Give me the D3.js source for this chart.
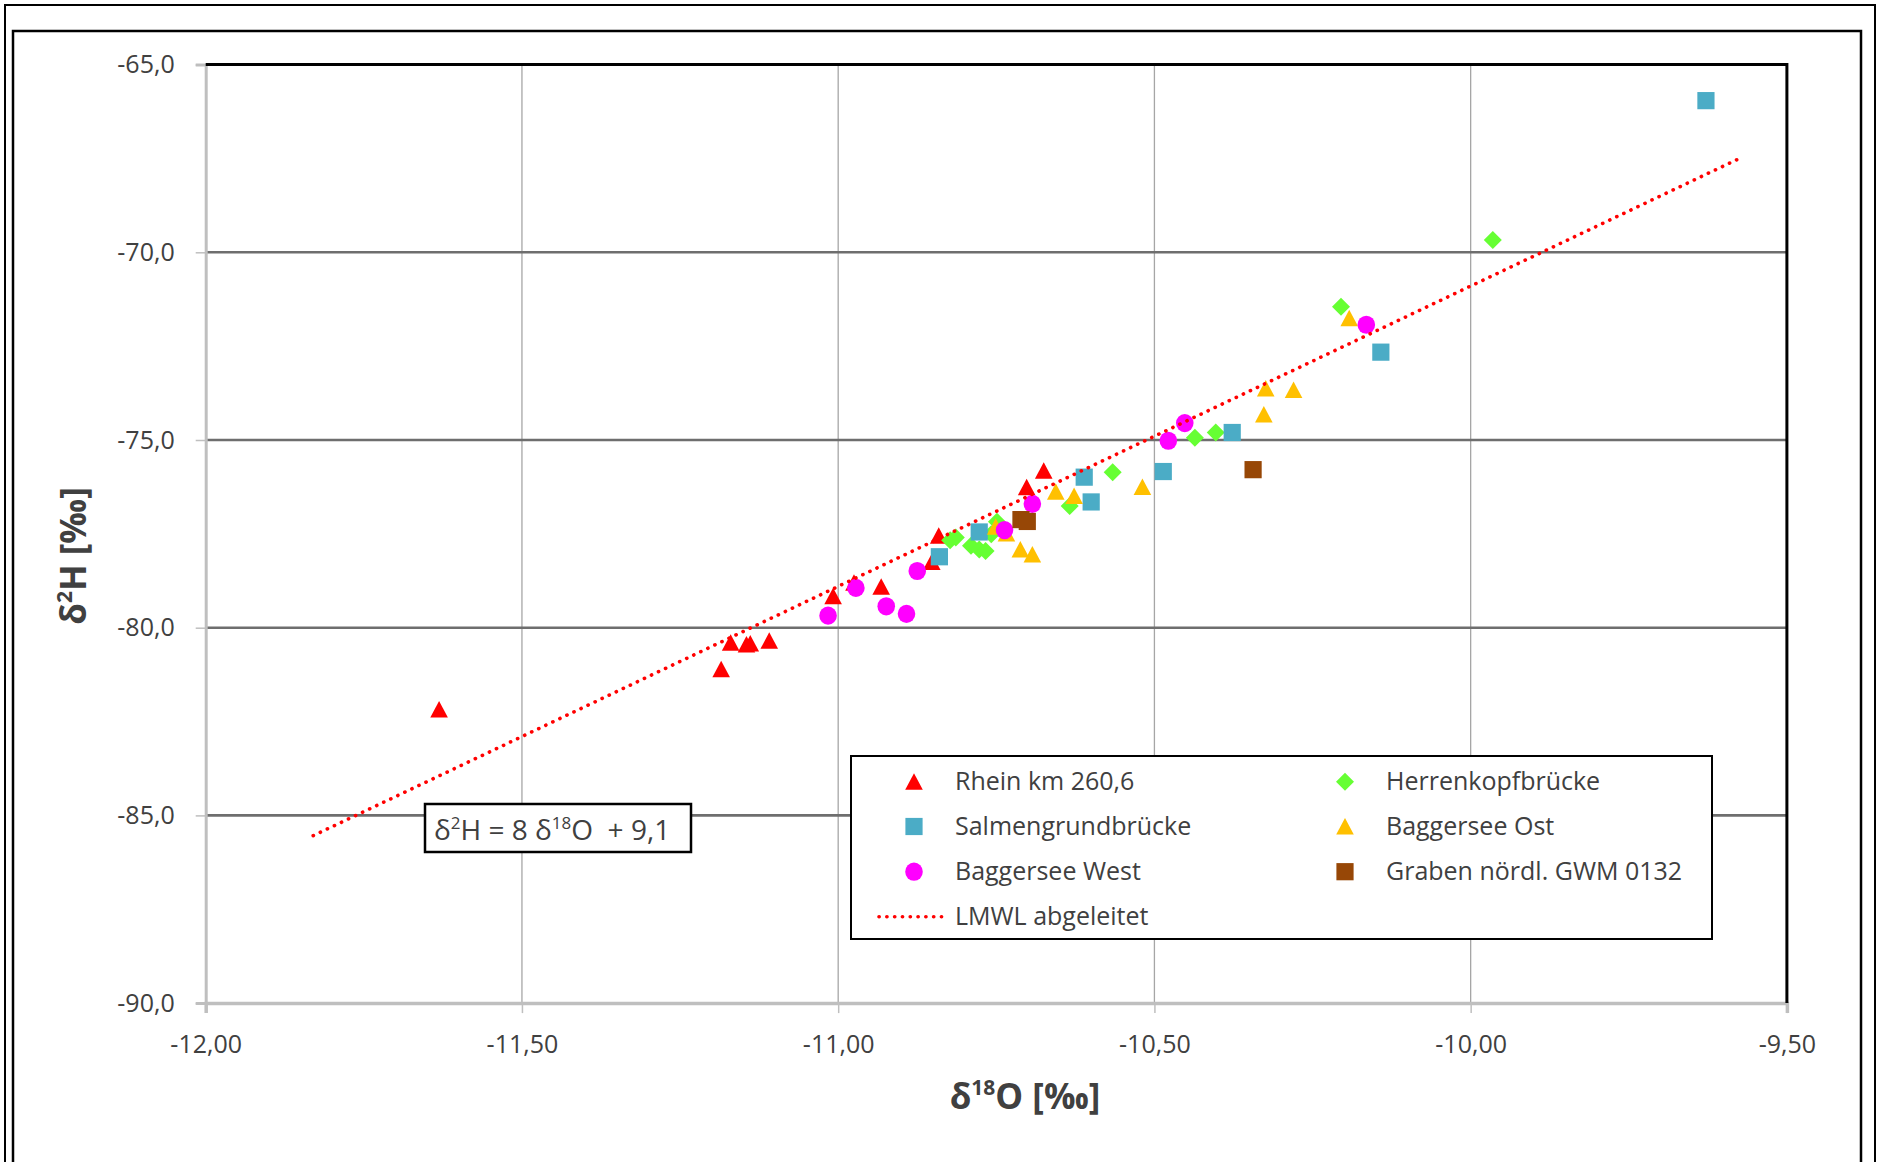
<!DOCTYPE html>
<html>
<head>
<meta charset="utf-8">
<script src="https://cdn.jsdelivr.net/npm/d3@7"></script>
<style>
  body { margin: 0; background: #fff; }
  text { font-family: "Open Sans", "Noto Sans", sans-serif; fill: #404040; }
</style>
</head>
<body>
<svg id="viz" width="1879" height="1162"></svg>
<script>
// d18O / d2H scatter with local meteoric water line

// Rhein km 260,6
var rheinX = [-11.631, -11.185, -11.170, -11.145, -11.139, -11.109, -11.008, -10.975, -10.932, -10.852, -10.841, -10.702, -10.675];
var rheinY = [-82.18, -81.11, -80.40, -80.45, -80.42, -80.35, -79.16, -78.80, -78.91, -78.25, -77.55, -76.26, -75.82];
// Herrenkopfbrücke
var herrX = [-10.823, -10.814, -10.790, -10.777, -10.767, -10.758, -10.749, -10.634, -10.566, -10.436, -10.403, -10.205, -9.965];
var herrY = [-77.67, -77.60, -77.82, -77.92, -77.96, -77.51, -77.18, -76.76, -75.86, -74.94, -74.80, -71.45, -69.67];
// Salmengrundbrücke
var salmX = [-10.840, -10.777, -10.611, -10.600, -10.486, -10.377, -10.142, -9.628];
var salmY = [-78.11, -77.45, -75.99, -76.65, -75.84, -74.80, -72.66, -65.96];
// Baggersee Ost
var ostX = [-10.751, -10.734, -10.712, -10.693, -10.656, -10.627, -10.519, -10.324, -10.280, -10.327, -10.192];
var ostY = [-77.31, -77.49, -77.92, -78.05, -76.38, -76.49, -76.25, -73.63, -73.67, -74.32, -71.76];
// Baggersee West
var westX = [-11.016, -10.972, -10.924, -10.892, -10.875, -10.737, -10.693, -10.478, -10.452, -10.165];
var westY = [-79.68, -78.94, -79.43, -79.63, -78.49, -77.40, -76.70, -75.02, -74.55, -71.93];
// Graben nördl. GWM 0132
var grabenX = [-10.711, -10.701, -10.344];
var grabenY = [-77.12, -77.17, -75.79];

// LMWL: d2H = 8 d18O + 9,1, drawn between these d18O values
var lmwlSlope = 8;
var lmwlIntercept = 9.1;
var lmwlRange = [-11.83, -9.577];

var xTicks = [-12, -11.5, -11, -10.5, -10, -9.5];
var yTicks = [-65, -70, -75, -80, -85, -90];

var series = [
    {name: "Rhein km 260,6", xs: rheinX, ys: rheinY, shape: "triangle", color: "#ff0000"},
    {name: "Herrenkopfbrücke", xs: herrX, ys: herrY, shape: "diamond", color: "#66ff33"},
    {name: "Salmengrundbrücke", xs: salmX, ys: salmY, shape: "square", color: "#4bacc6"},
    {name: "Baggersee Ost", xs: ostX, ys: ostY, shape: "triangle", color: "#ffc000"},
    {name: "Baggersee West", xs: westX, ys: westY, shape: "circle", color: "#ff00ff"},
    {name: "Graben nördl. GWM 0132", xs: grabenX, ys: grabenY, shape: "square", color: "#974706"}
];

var svg = d3.select("#viz");
var width = +svg.attr("width");
var height = +svg.attr("height");

var plot = {left: 205.7, right: 1786.9, top: 64.6, bottom: 1003.1};

var loc = d3.formatLocale({decimal: ",", thousands: ".", grouping: [3], currency: ["", ""], minus: "-"});

var x = d3.scaleLinear().domain([-12, -9.5]).range([plot.left, plot.right]);
var y = d3.scaleLinear().domain([-90, -65]).range([plot.bottom, plot.top]);

// frames
svg.append("rect")
    .attr("x", 5).attr("y", 5)
    .attr("width", 1870).attr("height", 1200)
    .attr("fill", "none").attr("stroke", "#000").attr("stroke-width", 2);
svg.append("rect")
    .attr("x", 13).attr("y", 31)
    .attr("width", 1848).attr("height", 1200)
    .attr("fill", "none").attr("stroke", "#000").attr("stroke-width", 2.5);

// grid lines
svg.append("g").attr("class", "vgrid")
    .selectAll("line")
    .data(xTicks.slice(1, -1))
    .enter().append("line")
    .attr("x1", d => x(d)).attr("x2", d => x(d))
    .attr("y1", plot.top).attr("y2", plot.bottom)
    .attr("stroke", "#a6a6a6").attr("stroke-width", 1.3);

svg.append("g").attr("class", "hgrid")
    .selectAll("line")
    .data(yTicks.slice(1, -1))
    .enter().append("line")
    .attr("x1", plot.left).attr("x2", plot.right)
    .attr("y1", d => y(d)).attr("y2", d => y(d))
    .attr("stroke", "#6e6e6e").attr("stroke-width", 2.6);

// axes
var xAxis = d3.axisBottom(x)
    .tickValues(xTicks)
    .tickFormat(loc.format(".2f"))
    .tickSize(10)
    .tickPadding(22);
var gx = svg.append("g")
    .attr("transform", `translate(0,${plot.bottom})`)
    .call(xAxis);
gx.select(".domain").attr("stroke", "#bfbfbf").attr("stroke-width", 3.5);
gx.selectAll(".tick line").attr("stroke", "#bfbfbf").attr("stroke-width", 1.5);
gx.selectAll(".tick text").attr("font-size", 25).attr("fill", "#404040")
    .attr("font-family", "'Open Sans', sans-serif");

var yAxis = d3.axisLeft(y)
    .tickValues(yTicks)
    .tickFormat(loc.format(".1f"))
    .tickSize(10)
    .tickPadding(21);
var gy = svg.append("g")
    .attr("transform", `translate(${plot.left},0)`)
    .call(yAxis);
gy.select(".domain").attr("stroke", "#bfbfbf").attr("stroke-width", 3);
gy.selectAll(".tick line").attr("stroke", "#bfbfbf").attr("stroke-width", 1.5);
gy.selectAll(".tick text").attr("font-size", 25).attr("fill", "#404040")
    .attr("font-family", "'Open Sans', sans-serif");

// top and right border
svg.append("path")
    .attr("d", `M${plot.left},${plot.top}H${plot.right}V${plot.bottom}`)
    .attr("fill", "none").attr("stroke", "#000").attr("stroke-width", 3);

// marker shapes
function markerPath(shape) {
    if (shape === "triangle") return "M0,-8.5L8.8,8L-8.8,8Z";
    if (shape === "diamond") return "M0,-9L9,0L0,9L-9,0Z";
    if (shape === "square") return "M-8.6,-8.6H8.6V8.6H-8.6Z";
    return "M-8.8,0A8.8,9.1 0 1,0 8.8,0A8.8,9.1 0 1,0 -8.8,0Z";
}

var points = svg.append("g").attr("class", "points");
series.forEach(s => {
    points.append("g")
        .selectAll("path")
        .data(s.xs.map((d, i) => [d, s.ys[i]]))
        .enter().append("path")
        .attr("d", markerPath(s.shape))
        .attr("transform", d => `translate(${x(d[0])},${y(d[1])})`)
        .attr("fill", s.color);
});

// LMWL dotted line
var lmwl = lmwlRange.map(v => [v, lmwlSlope * v + lmwlIntercept]);
svg.append("path")
    .attr("d", d3.line().x(d => x(d[0])).y(d => y(d[1]))(lmwl))
    .attr("fill", "none")
    .attr("stroke", "#ff0000")
    .attr("stroke-width", 3.6)
    .attr("stroke-linecap", "round")
    .attr("stroke-dasharray", "0.2 7.6");

// axis titles
var xt = svg.append("text")
    .attr("x", 1025).attr("y", 1109)
    .attr("text-anchor", "middle")
    .attr("font-size", 35).attr("font-weight", 700);
xt.append("tspan").text("δ");
xt.append("tspan").attr("font-size", 21).attr("dy", -14).text("18");
xt.append("tspan").attr("dy", 14).text("O [‰]");

var yt = svg.append("text")
    .attr("transform", "translate(86,556) rotate(-90)")
    .attr("text-anchor", "middle")
    .attr("font-size", 35).attr("font-weight", 700);
yt.append("tspan").text("δ");
yt.append("tspan").attr("font-size", 21).attr("dy", -14).text("2");
yt.append("tspan").attr("dy", 14).text("H [‰]");

// equation box
svg.append("rect")
    .attr("x", 425).attr("y", 804).attr("width", 266).attr("height", 48)
    .attr("fill", "#fff").attr("stroke", "#000").attr("stroke-width", 2.5);
var eq = svg.append("text")
    .attr("x", 434).attr("y", 840)
    .attr("font-size", 28)
    .style("white-space", "pre");
eq.append("tspan").text("δ");
eq.append("tspan").attr("font-size", 17).attr("dy", -11).text("2");
eq.append("tspan").attr("dy", 11).text("H = 8 δ");
eq.append("tspan").attr("font-size", 17).attr("dy", -11).text("18");
eq.append("tspan").attr("dy", 11).text("O  + 9,1");

// legend
var legend = svg.append("g").attr("id", "legend");
legend.append("rect")
    .attr("x", 851).attr("y", 756).attr("width", 861).attr("height", 183)
    .attr("fill", "#fff").attr("stroke", "#000").attr("stroke-width", 2);

var colX = [914, 1345];
var rowY = [781.7, 826.5, 871.7, 916.7];
series.forEach((s, i) => {
    var cx = colX[i % 2], cy = rowY[Math.floor(i / 2)];
    legend.append("path")
        .attr("d", markerPath(s.shape))
        .attr("transform", `translate(${cx},${cy})`)
        .attr("fill", s.color);
    legend.append("text")
        .attr("x", cx + 41).attr("y", cy)
        .attr("dy", "0.35em")
        .attr("font-size", 25)
        .text(s.name);
});
legend.append("line")
    .attr("x1", 879).attr("x2", 944)
    .attr("y1", rowY[3]).attr("y2", rowY[3])
    .attr("stroke", "#ff0000")
    .attr("stroke-width", 3.6)
    .attr("stroke-linecap", "round")
    .attr("stroke-dasharray", "0.2 7.6");
legend.append("text")
    .attr("x", 955).attr("y", rowY[3])
    .attr("dy", "0.35em")
    .attr("font-size", 25)
    .text("LMWL abgeleitet");
</script>
</body>
</html>
